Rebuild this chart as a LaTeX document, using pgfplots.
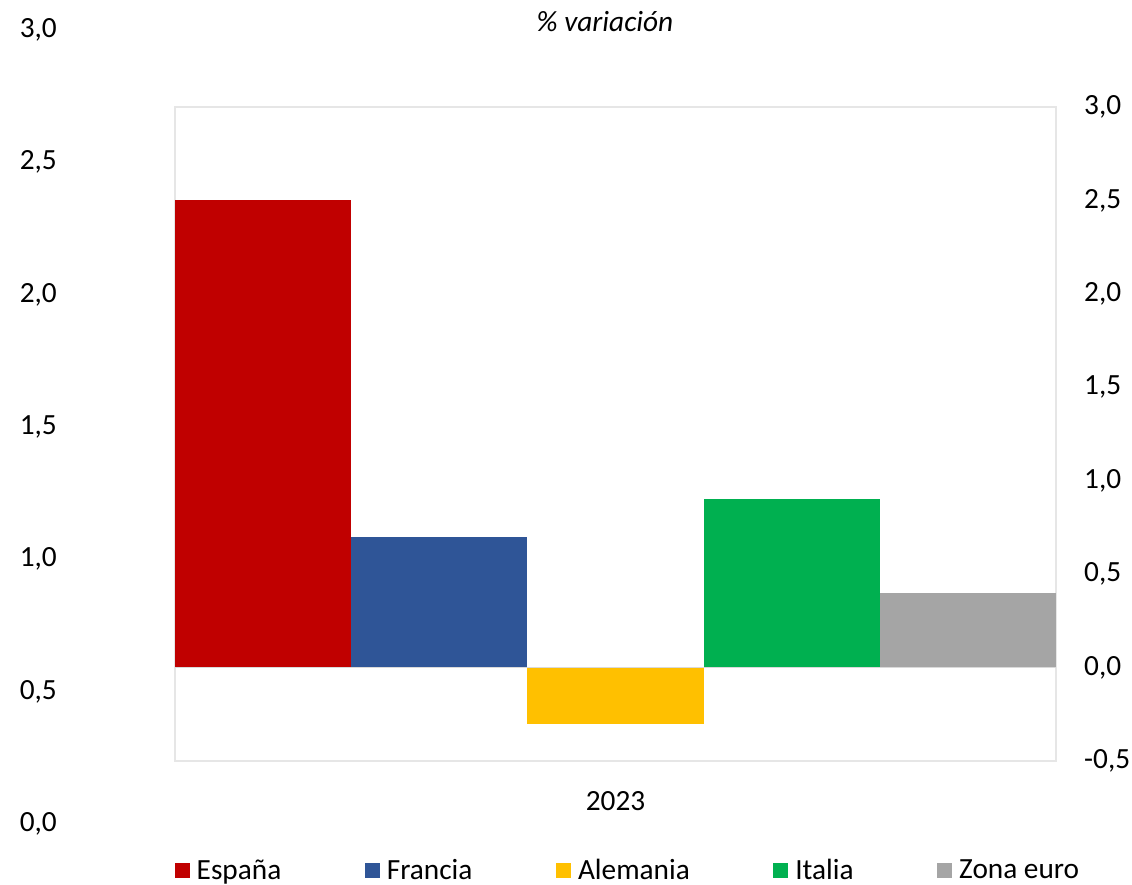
\documentclass[border=0pt]{standalone}
\usepackage{pgfplots}
\pgfplotsset{compat=1.18}
\usepackage{fontspec}
\setmainfont{Carlito}
\definecolor{cEs}{HTML}{C00000}
\definecolor{cFr}{HTML}{2F5597}
\definecolor{cAl}{HTML}{FFC000}
\definecolor{cIt}{HTML}{00B050}
\definecolor{cZe}{HTML}{A5A5A5}
\definecolor{cBorder}{HTML}{E6E6E6}
\definecolor{cZero}{HTML}{D9D9D9}
\pgfplotsset{
  /pgf/number format/.cd, fixed, fixed zerofill, precision=1, use comma, assume math mode=true
}
\begin{document}
\begin{tikzpicture}[x=1pt,y=1pt,font=\fontsize{29.3pt}{35pt}\selectfont]
\path[use as bounding box] (0,0) rectangle (1132,885);
% left (outer) axis: labels only
\begin{axis}[
  at={(175pt,61pt)}, anchor=south west, scale only axis,
  width=881pt, height=794pt,
  xmin=0, xmax=1, ymin=0, ymax=3,
  axis line style={draw=none},
  xtick=\empty,
  ytick={0,0.5,1,1.5,2,2.5,3},
  major tick length=0pt, tick style={draw=none},
  yticklabel style={anchor=east, inner sep=0pt, xshift=-118pt},
]
\addplot[draw=none] coordinates {(0,0)};
\end{axis}
% main axis
\begin{axis}[
  at={(175pt,124pt)}, anchor=south west, scale only axis,
  width=881pt, height=654pt,
  xmin=-0.5, xmax=0.5, ymin=-0.5, ymax=3,
  ybar, bar width=0.2, bar shift=0pt,
  axis line style={draw=cBorder, line width=1.2pt},
  xtick={0}, xticklabels={2023},
  ytick={-0.5,0,0.5,1,1.5,2,2.5,3},
  yticklabel pos=right,
  major tick length=0pt, tick style={draw=none},
  xticklabel style={anchor=north, inner sep=0pt, yshift=-30pt},
  yticklabel style={anchor=west, inner sep=0pt, xshift=28pt},
  legend style={at={(0.513,-0.1667)}, anchor=center, legend columns=5,
    draw=none, fill=none, nodes={inner sep=0pt, anchor=west},
    /tikz/every odd column/.append style={column sep=7pt},
    /tikz/every even column/.append style={column sep=83.5pt}},
  legend image code/.code={\fill[#1] (0pt,-7.5pt) rectangle (15pt,7.5pt);},
]
\addplot[fill=cEs, draw=none] coordinates {(-0.4,2.5)};
\addplot[fill=cFr, draw=none] coordinates {(-0.2,0.7)};
\addplot[fill=cAl, draw=none] coordinates {(0,-0.3)};
\addplot[fill=cIt, draw=none] coordinates {(0.2,0.9)};
\addplot[fill=cZe, draw=none] coordinates {(0.4,0.4)};
\draw[cZero, line width=1.5pt] (axis cs:-0.5,0) -- (axis cs:0.5,0);
\legend{España, Francia, Alemania, Italia, Zona euro}
\end{axis}
\node[font=\fontsize{29.3pt}{35pt}\selectfont\itshape] at (605,863) {\% variación};
\end{tikzpicture}
\end{document}
